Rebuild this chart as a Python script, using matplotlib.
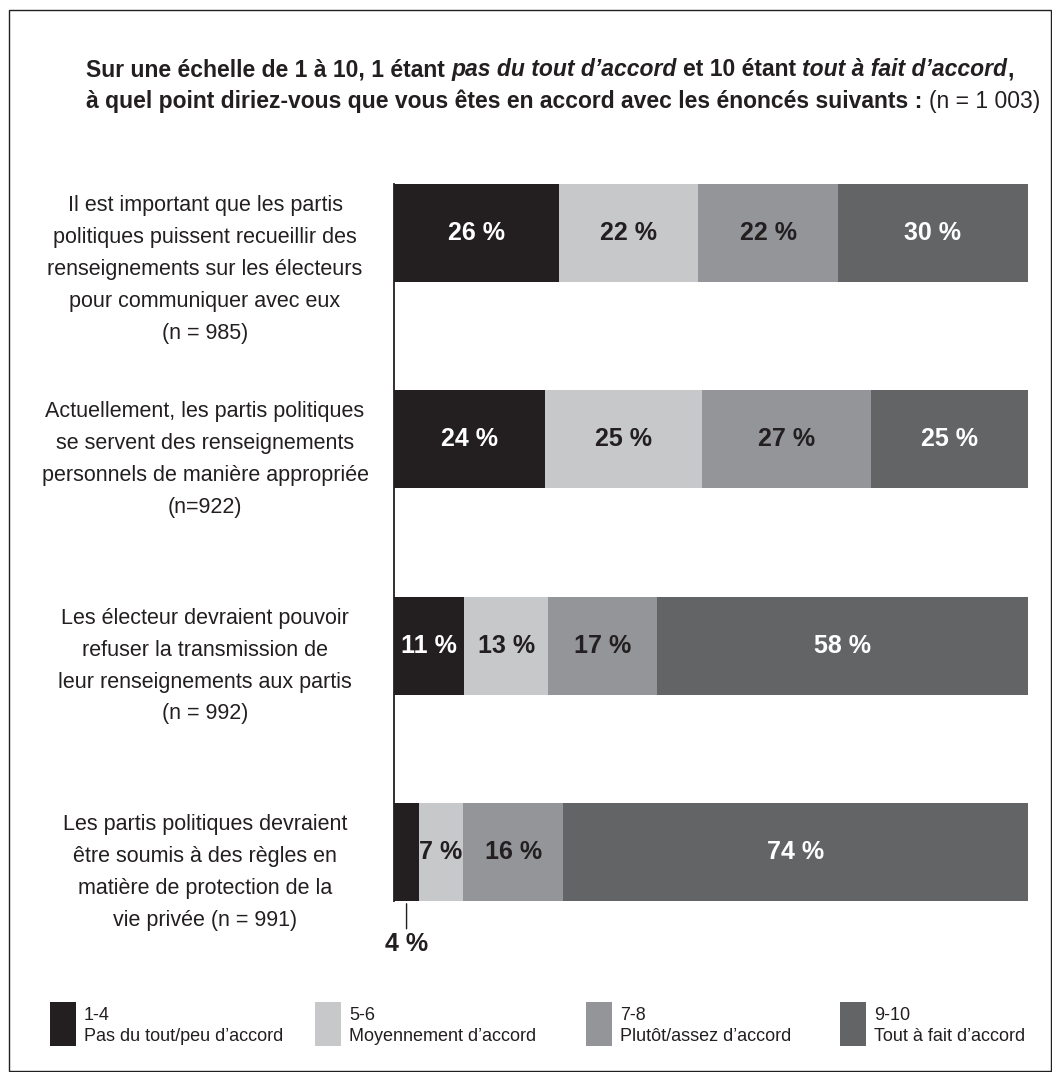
import matplotlib
matplotlib.use('Agg')
import matplotlib.pyplot as plt
from matplotlib.patches import Rectangle
from matplotlib.transforms import blended_transform_factory
from matplotlib import font_manager as fm
import numpy as np

W, H, DPI = 1052, 1072, 100

# ---------------- data ----------------
categories = [
    "Il est important que les partis\npolitiques puissent recueillir des\nrenseignements sur les électeurs\npour communiquer avec eux\n(n = 985)",
    "Actuellement, les partis politiques\nse servent des renseignements\npersonnels de manière appropriée\n(n=922)",
    "Les électeur devraient pouvoir\nrefuser la transmission de\nleur renseignements aux partis\n(n = 992)",
    "Les partis politiques devraient\nêtre soumis à des règles en\nmatière de protection de la\nvie privée (n = 991)",
]
seg_codes = ["1-4", "5-6", "7-8", "9-10"]
seg_desc = ["Pas du tout/peu d’accord", "Moyennement d’accord",
            "Plutôt/assez d’accord", "Tout à fait d’accord"]
v_1_4 = [26, 24, 11, 4]
v_5_6 = [22, 25, 13, 7]
v_7_8 = [22, 27, 17, 16]
v_9_10 = [30, 25, 58, 74]

colors = ["#231f20", "#c7c8ca", "#939598", "#636466"]
text_colors = ["white", "#231f20", "#231f20", "white"]
DARK = "#231f20"

installed = {f.name for f in fm.fontManager.ttflist}
main_font = "Liberation Sans Narrow" if "Liberation Sans Narrow" in installed else "Liberation Sans"
plt.rcParams["font.family"] = [main_font, "DejaVu Sans"]

fig = plt.figure(figsize=(W / DPI, H / DPI), dpi=DPI)
renderer = fig.canvas.get_renderer()


def fx(px):
    return px / W


def fy(py):
    return 1 - py / H


def width_of(t):
    return t.get_window_extent(renderer).width


# ---------------- bars ----------------
bar_top, bar_bot = 184, 901
ax = fig.add_axes([fx(394), fy(bar_bot), fx(1028) - fx(394), fy(bar_top) - fy(bar_bot)])
height = 0.475
ax.set_xlim(0, 100)
ax.set_ylim(3 + height / 2, -height / 2)

series = np.array([v_1_4, v_5_6, v_7_8, v_9_10], dtype=float)
totals = series.sum(axis=0)
ypos = np.arange(len(categories))
left = np.zeros(len(categories))
for i in range(4):
    w = series[i] / totals * 100
    ax.barh(ypos, w, left=left, height=height, color=colors[i], linewidth=0)
    for j in range(len(categories)):
        lbl = f"{int(series[i][j])} %"
        if series[i][j] >= 5:
            ax.text(left[j] + w[j] / 2, j, lbl, ha="center", va="center",
                    fontsize=18, fontweight="bold", color=text_colors[i])
        else:
            ax.annotate(lbl, xy=(left[j] + w[j] / 2, j + height / 2),
                        xytext=(0, -22), textcoords="offset points",
                        ha="center", va="top", fontsize=18, fontweight="bold",
                        color=DARK, annotation_clip=False,
                        arrowprops=dict(arrowstyle="-", color=DARK, lw=1.0,
                                        shrinkA=0, shrinkB=2))
    left += w

for s in ["top", "right", "bottom"]:
    ax.spines[s].set_visible(False)
ax.spines["left"].set_color(DARK)
ax.spines["left"].set_linewidth(1.3)
ax.set_xticks([])
ax.set_yticks([])

# category labels, top aligned with bars
tr = blended_transform_factory(fig.transFigure, ax.transData)
for j, cat in enumerate(categories):
    ax.annotate(cat, xy=(fx(205), j - height / 2), xycoords=tr,
                xytext=(0, -8), textcoords="offset points",
                ha="center", va="top", fontsize=15.5, linespacing=1.68,
                multialignment="center", color=DARK, annotation_clip=False)

# ---------------- title (mixed styles) ----------------
line1 = [("Sur une échelle de 1 à 10, 1 étant", "bold", "normal"),
         (None, None, None),
         ("pas du tout d’accord", "bold", "italic"),
         (None, None, None),
         ("et 10 étant", "bold", "normal"),
         (None, None, None),
         ("tout à fait d’accord", "bold", "italic"),
         (",", "bold", "normal")]
line2 = [("à quel point diriez-vous que vous êtes en accord avec les énoncés suivants :", "bold", "normal"),
         (None, None, None),
         ("(n = 1 003)", "normal", "normal")]


def space_width(size):
    a = fig.text(0, 0, "x x", fontsize=size, fontweight="bold")
    b = fig.text(0, 0, "xx", fontsize=size, fontweight="bold")
    sw = width_of(a) - width_of(b)
    a.remove()
    b.remove()
    return sw


def draw_pieces(pieces, x0, ybase, size, draw=True):
    x = x0
    sp = space_width(size)
    made = []
    for txt, weight, style in pieces:
        if txt is None:
            x += sp
            continue
        t = fig.text(fx(x), fy(ybase), txt, fontsize=size, fontweight=weight,
                     fontstyle=style, color=DARK, ha="left", va="baseline")
        made.append(t)
        x += width_of(t)
    if not draw:
        for t in made:
            t.remove()
    return x - x0


# fit line 2 of the title to the width it spans in the reference
base = 16
wbase = draw_pieces(line2, 0, 0, base, draw=False)
TS = base * (1040 - 86) / wbase
draw_pieces(line1, 86, 76, TS)
draw_pieces(line2, 86, 108, TS)

# ---------------- legend ----------------
legend_x = [50, 315, 586, 840]
for i in range(4):
    x0 = legend_x[i]
    fig.add_artist(Rectangle((fx(x0), fy(1046)), fx(26), 44 / H,
                             transform=fig.transFigure, color=colors[i], lw=0))
    fig.text(fx(x0 + 34), fy(1020), seg_codes[i], fontsize=13, color=DARK,
             ha="left", va="baseline")
    fig.text(fx(x0 + 34), fy(1041), seg_desc[i], fontsize=13, color=DARK,
             ha="left", va="baseline")

# ---------------- frame ----------------
fig.add_artist(Rectangle((fx(9.5), fy(1070.5)), fx(1041), 1061 / H,
                         transform=fig.transFigure, fill=False, lw=1.0,
                         ec=DARK))

fig.savefig("out.png", dpi=DPI)
